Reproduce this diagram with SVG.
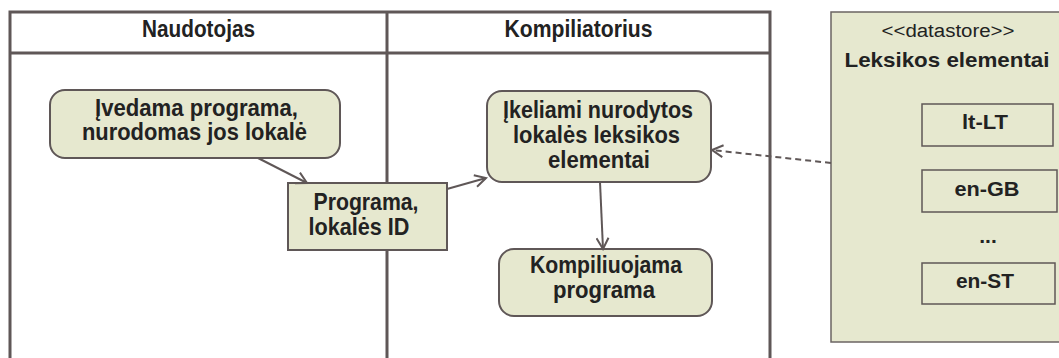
<svg xmlns="http://www.w3.org/2000/svg" width="1059" height="358" viewBox="0 0 1059 358">
  <defs>
    <style>
      .lane { fill: none; stroke: #5f5757; stroke-width: 3; }
      .action { fill: #e6e8cf; stroke: #5f5757; stroke-width: 2; }
      .object { fill: #e6e8cf; stroke: #5f5757; stroke-width: 2; }
      .store { fill: #e6e8cf; stroke: #6b6463; stroke-width: 1.5; }
      .item { fill: none; stroke: #5f5757; stroke-width: 1.5; }
      .lbl { font-family: "Liberation Sans", Arial, sans-serif; font-weight: bold; font-size: 24px; fill: #222222; text-anchor: middle; }
      .ds { font-family: "Liberation Sans", Arial, sans-serif; font-weight: bold; font-size: 21px; fill: #222222; text-anchor: middle; }
      .stereo { font-family: "Liberation Sans", Arial, sans-serif; font-size: 18px; fill: #222222; text-anchor: middle; }
      .flow { fill: none; stroke: #5f5757; stroke-width: 2; }
      .dash { stroke-dasharray: 6 4; }
    </style>
    <marker id="open" markerUnits="userSpaceOnUse" markerWidth="14" markerHeight="14" refX="12" refY="7" orient="auto">
      <path d="M1,1 L12,7 L1,13" fill="none" stroke="#5f5757" stroke-width="2"/>
    </marker>
  </defs>

  <!-- swimlanes -->
  <g id="lanes">
    <path class="lane" d="M10,358 V12 H770 V358 M387,12 V358 M10,53 H770"/>
    <text class="lbl" x="198.5" y="37" textLength="113" lengthAdjust="spacingAndGlyphs">Naudotojas</text>
    <text class="lbl" x="578.5" y="37" textLength="148" lengthAdjust="spacingAndGlyphs">Kompiliatorius</text>
  </g>

  <!-- datastore -->
  <g id="datastore">
    <rect class="store" x="831" y="12" width="240" height="330"/>
    <text class="stereo" x="948" y="37" textLength="133" lengthAdjust="spacingAndGlyphs">&lt;&lt;datastore&gt;&gt;</text>
    <text class="ds" x="947" y="67" textLength="205" lengthAdjust="spacingAndGlyphs">Leksikos elementai</text>
    <rect class="item" x="922" y="104" width="131" height="42"/>
    <text class="ds" x="985" y="129" textLength="46" lengthAdjust="spacingAndGlyphs">lt-LT</text>
    <rect class="item" x="922" y="170" width="135" height="42"/>
    <text class="ds" x="987" y="196" textLength="65" lengthAdjust="spacingAndGlyphs">en-GB</text>
    <text class="ds" x="988" y="243">...</text>
    <rect class="item" x="922" y="263" width="133" height="41"/>
    <text class="ds" x="985" y="288" textLength="58" lengthAdjust="spacingAndGlyphs">en-ST</text>
  </g>

  <!-- actions -->
  <g id="ivedama">
    <rect class="action" x="50" y="90" width="290" height="68" rx="15"/>
    <text class="lbl" x="196.5" y="116" textLength="203" lengthAdjust="spacingAndGlyphs">Įvedama programa,</text>
    <text class="lbl" x="194.5" y="140" textLength="225" lengthAdjust="spacingAndGlyphs">nurodomas jos lokalė</text>
  </g>

  <g id="programa-id">
    <rect class="object" x="288" y="183" width="159" height="67"/>
    <text class="lbl" x="366" y="210" textLength="105" lengthAdjust="spacingAndGlyphs">Programa,</text>
    <text class="lbl" x="359" y="235" textLength="101" lengthAdjust="spacingAndGlyphs">lokalės ID</text>
  </g>

  <g id="ikeliami">
    <rect class="action" x="487" y="91" width="224" height="91" rx="15"/>
    <text class="lbl" x="598" y="118" textLength="190" lengthAdjust="spacingAndGlyphs">Įkeliami nurodytos</text>
    <text class="lbl" x="596.5" y="143" textLength="167" lengthAdjust="spacingAndGlyphs">lokalės leksikos</text>
    <text class="lbl" x="599" y="168" textLength="102" lengthAdjust="spacingAndGlyphs">elementai</text>
  </g>

  <g id="kompiliuojama">
    <rect class="action" x="499" y="249" width="213" height="67" rx="15"/>
    <text class="lbl" x="606" y="273" textLength="152" lengthAdjust="spacingAndGlyphs">Kompiliuojama</text>
    <text class="lbl" x="604" y="298" textLength="102" lengthAdjust="spacingAndGlyphs">programa</text>
  </g>

  <!-- connectors -->
  <g id="connectors">
    <line class="flow" x1="258" y1="158" x2="307" y2="183" marker-end="url(#open)"/>
    <line class="flow" x1="447" y1="189" x2="486" y2="178" marker-end="url(#open)"/>
    <line class="flow" x1="600" y1="182" x2="603" y2="249" marker-end="url(#open)"/>
    <line class="flow dash" x1="831" y1="163" x2="712" y2="150" marker-end="url(#open)"/>
  </g>
</svg>
